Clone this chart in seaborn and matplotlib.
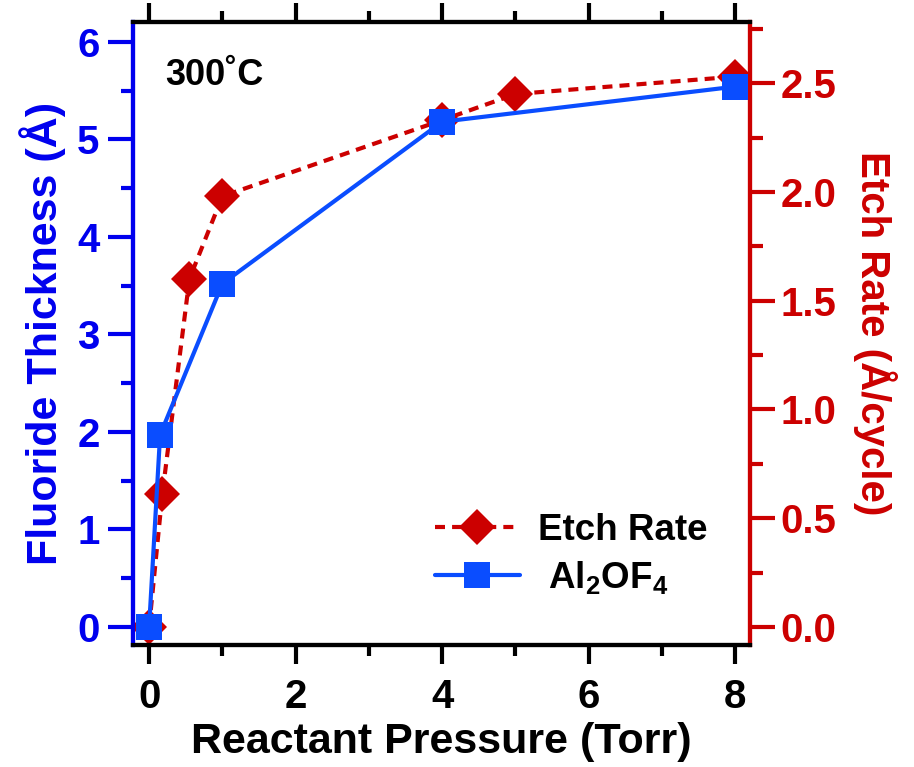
import matplotlib
matplotlib.use("Agg")
import matplotlib.pyplot as plt
import seaborn as sns
import numpy as np
from matplotlib.ticker import MultipleLocator, FormatStrFormatter
from matplotlib.lines import Line2D

# Data
fluoride_pressure = [0.0, 0.15, 1.0, 4.0, 8.0]
fluoride_thickness = [0.0, 1.97, 3.52, 5.18, 5.54]
etch_pressure = [0.0, 0.18, 0.55, 1.0, 4.0, 5.0, 8.0]
etch_rate = [0.0, 0.61, 1.60, 1.98, 2.33, 2.45, 2.53]
x_ticks = [0, 2, 4, 6, 8]
left_ticks = [0, 1, 2, 3, 4, 5, 6]
right_ticks = [0.0, 0.5, 1.0, 1.5, 2.0, 2.5]

sns.set_style("ticks")
plt.rcParams['font.family'] = ['Liberation Sans', 'DejaVu Sans']
plt.rcParams['font.weight'] = 'bold'
plt.rcParams['text.color'] = 'black'
plt.rcParams['axes.labelcolor'] = 'black'
plt.rcParams['xtick.color'] = 'black'
plt.rcParams['ytick.color'] = 'black'
plt.rcParams['mathtext.fontset'] = 'custom'
plt.rcParams['mathtext.rm'] = 'Liberation Sans:bold'
plt.rcParams['mathtext.bf'] = 'Liberation Sans:bold'
plt.rcParams['mathtext.default'] = 'rm'

BLUE_AX = '#0000EE'
BLUE_LN = '#0A4DFF'
RED = '#CC0000'
DASH = (0, (2.4, 1.7))

fig = plt.figure(figsize=(9.14, 7.67), dpi=100)
ax = fig.add_axes([0.1455, 0.159, 0.675, 0.812])
ax2 = ax.twinx()

sns.lineplot(x=fluoride_pressure, y=fluoride_thickness, ax=ax, color=BLUE_LN,
             linewidth=3, marker='s', markersize=19, markeredgewidth=0,
             markerfacecolor=BLUE_LN, zorder=3)
sns.lineplot(x=etch_pressure, y=etch_rate, ax=ax2, color=RED,
             linewidth=3, linestyle=DASH, marker='D', markersize=18,
             markeredgewidth=0, markerfacecolor=RED, zorder=2)
ax.set_zorder(ax2.get_zorder() + 1)
ax.patch.set_visible(False)

ax.set_xlim(-0.22, 8.2)
ax.set_ylim(-0.185, 6.2)
ax2.set_ylim(-0.083, 2.78)

ax.set_xticks(x_ticks)
ax.set_yticks(left_ticks)
ax2.set_yticks(right_ticks)
ax2.yaxis.set_major_formatter(FormatStrFormatter('%.1f'))
ax.xaxis.set_minor_locator(MultipleLocator(1))
ax.yaxis.set_minor_locator(MultipleLocator(0.5))
ax2.yaxis.set_minor_locator(MultipleLocator(0.25))

for a in (ax, ax2):
    for s in a.spines.values():
        s.set_linewidth(3)
        s.set_color('black')
ax.spines['left'].set_color(BLUE_AX)
ax2.spines['left'].set_color(BLUE_AX)
ax.spines['right'].set_color(RED)
ax2.spines['right'].set_color(RED)

ax.tick_params(axis='x', which='both', top=True, bottom=True, direction='out',
               width=3, color='black', labelcolor='black', labelsize=29, pad=10)
ax.tick_params(axis='x', which='major', length=14)
ax.tick_params(axis='x', which='minor', length=8)
ax.tick_params(axis='y', which='both', direction='out', width=3,
               color=BLUE_AX, labelcolor=BLUE_AX, labelsize=29, pad=6)
ax.tick_params(axis='y', which='major', length=18)
ax.tick_params(axis='y', which='minor', length=9)
ax2.tick_params(axis='y', which='both', direction='out', width=3,
                color=RED, labelcolor=RED, labelsize=29, pad=4)
ax2.tick_params(axis='y', which='major', length=18)
ax2.tick_params(axis='y', which='minor', length=9)
for lbl in ax.get_xticklabels() + ax.get_yticklabels() + ax2.get_yticklabels():
    lbl.set_fontweight('bold')

ax.set_xlabel('Reactant Pressure (Torr)', fontsize=31, fontweight='bold',
              color='black', labelpad=4)
ax.set_ylabel('Fluoride Thickness (Å)', fontsize=31, fontweight='bold',
              color=BLUE_AX, labelpad=8)
ax2.set_ylabel('Etch Rate (Å/cycle)', fontsize=29, fontweight='bold', color=RED,
               rotation=270, labelpad=44)

ax.text(0.052, 0.915, '300˚C', transform=ax.transAxes, fontsize=26,
        fontweight='bold', ha='left', va='center', color='black')

handles = [
    Line2D([], [], color=RED, linewidth=3, linestyle=DASH, marker='D',
           markersize=18, markeredgewidth=0),
    Line2D([], [], color=BLUE_LN, linewidth=3, marker='s', markersize=19,
           markeredgewidth=0),
]
leg = ax.legend(handles, ['Etch Rate', ' Al$_2$OF$_4$'], loc='lower right',
                bbox_to_anchor=(0.985, 0.025), frameon=False, fontsize=26.5,
                handlelength=2.3, handletextpad=0.5, labelspacing=0.3)
for t in leg.get_texts():
    t.set_fontweight('bold')
    t.set_color('black')

fig.savefig('out.png', dpi=100)
